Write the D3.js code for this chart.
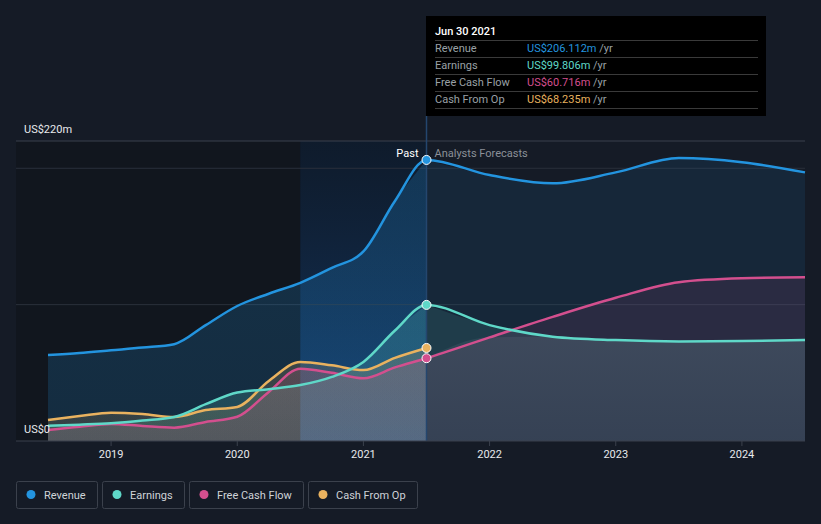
<!DOCTYPE html>
<html>
<head>
<meta charset="utf-8">
<script src="https://cdn.jsdelivr.net/npm/d3@7"></script>
<style>
  body { margin: 0; background: #151b26; font-family: Roboto, "Noto Sans", sans-serif; }
  svg { display: block; }
</style>
</head>
<body>
<div id="chart"></div>
<script>
// data, values in US$m, dates as decimal years
const pastDates = [2018.5, 2018.75, 2019, 2019.25, 2019.5, 2019.75, 2020, 2020.25, 2020.5, 2020.75, 2021, 2021.25, 2021.5];
const revenuePast = [63, 64.5, 66.5, 68.5, 71, 85, 99, 108, 116, 127, 139, 176, 206.112];
const earningsPast = [11.2, 12, 13, 15, 17.6, 27, 35.5, 38, 41, 47, 58, 81, 99.806];
const fcfPast = [8, 10.5, 12.5, 11, 9.8, 14, 17.8, 36, 53, 50, 46, 54, 60.716];
const cfoPast = [15.4, 18.3, 20.8, 19.8, 17.6, 22.7, 25, 44, 58, 55.5, 52, 61, 68.235];

const forecastDates = [2021.5, 2022, 2022.5, 2023, 2023.5, 2024, 2024.5];
const revenueForecast = [206.112, 195, 189, 197, 207.5, 204.5, 197];
const earningsForecast = [99.806, 85, 76.5, 74, 73, 73.3, 74];
const fcfForecast = [60.716, 76, 91, 105, 116.5, 119.3, 120];

const yearTicks = [2019, 2020, 2021, 2022, 2023, 2024];
const seriesNames = ["Revenue", "Earnings", "Free Cash Flow", "Cash From Op"];
const seriesColors = ["#2394df", "#5fd8c8", "#d34f8e", "#e9b25f"];
const tooltipDate = "Jun 30 2021";
const tooltipValues = ["US$206.112m", "US$99.806m", "US$60.716m", "US$68.235m"];

const width = 821, height = 524;
const plot = { left: 16, right: 805, top: 141, bottom: 441 };

const svg = d3.select('#chart').append('svg')
    .attr('width', width)
    .attr('height', height);

const defs = svg.append('defs');

const x = d3.scaleLinear()
    .domain([2018.5, 2024.5])
    .range([48, 805]);

const y = d3.scaleLinear()
    .domain([0, 220])
    .range([plot.bottom, plot.top]);

const toPoints = (dates, vals) => dates.map((d, i) => ({ t: d, v: vals[i] }));

const series = [
    { past: toPoints(pastDates, revenuePast), fc: toPoints(forecastDates, revenueForecast) },
    { past: toPoints(pastDates, earningsPast), fc: toPoints(forecastDates, earningsForecast) },
    { past: toPoints(pastDates, fcfPast), fc: toPoints(forecastDates, fcfForecast) },
    { past: toPoints(pastDates, cfoPast), fc: null }
];

// background of the past part
const splitX = x(2021.5);
const highlightX = x(2020.5);

svg.append('rect')
    .attr('x', plot.left).attr('y', plot.top)
    .attr('width', highlightX - plot.left).attr('height', plot.bottom - plot.top)
    .attr('fill', '#0d1117').attr('opacity', 0.45);

let hl = defs.append('linearGradient').attr('id', 'hl')
    .attr('x1', 0).attr('x2', 0).attr('y1', 0).attr('y2', 1);
hl.append('stop').attr('offset', '0%').attr('stop-color', '#0b2b52').attr('stop-opacity', 0.25);
hl.append('stop').attr('offset', '100%').attr('stop-color', '#1a56a0').attr('stop-opacity', 0.55);

svg.append('rect')
    .attr('x', highlightX).attr('y', plot.top)
    .attr('width', splitX - highlightX).attr('height', plot.bottom - plot.top)
    .attr('fill', '#0a0f17').attr('opacity', 0.4);
svg.append('rect')
    .attr('x', highlightX).attr('y', plot.top)
    .attr('width', splitX - highlightX).attr('height', plot.bottom - plot.top)
    .attr('fill', 'url(#hl)');

// gridlines
[100, 200].forEach(v => {
    svg.append('line')
        .attr('x1', plot.left).attr('x2', plot.right)
        .attr('y1', y(v)).attr('y2', y(v))
        .attr('stroke', '#2a303b').attr('stroke-width', 1);
});
svg.append('line')
    .attr('x1', plot.left).attr('x2', plot.right)
    .attr('y1', plot.top).attr('y2', plot.top)
    .attr('stroke', '#3b414c').attr('stroke-width', 1);

// areas
const area = d3.area()
    .x(d => x(d.t))
    .y0(y(0))
    .y1(d => y(d.v))
    .curve(d3.curveMonotoneX);

const line = d3.line()
    .x(d => x(d.t))
    .y(d => y(d.v))
    .curve(d3.curveMonotoneX);

const pastOpacity = [0.22, 0.2, 0.18, 0.18];
const fcOpacity = [0.1, 0.12, 0.11, 0];

seriesColors.forEach((c, i) => {
    let g = defs.append('linearGradient').attr('id', 'g' + i)
        .attr('x1', 0).attr('x2', 0).attr('y1', 0).attr('y2', 1);
    g.append('stop').attr('offset', '0%').attr('stop-color', c).attr('stop-opacity', pastOpacity[i]);
    g.append('stop').attr('offset', '100%').attr('stop-color', c).attr('stop-opacity', pastOpacity[i] * 0.8);
});

// gray base under the forecast
let fg = defs.append('linearGradient').attr('id', 'fgray')
    .attr('x1', 0).attr('x2', 0).attr('y1', 0).attr('y2', 1);
fg.append('stop').attr('offset', '0%').attr('stop-color', '#8a93a3').attr('stop-opacity', 0.13);
fg.append('stop').attr('offset', '100%').attr('stop-color', '#8a93a3').attr('stop-opacity', 0.04);

const areaGroup = svg.append('g');

series.forEach((s, i) => {
    areaGroup.append('path')
        .attr('d', area(s.past))
        .attr('fill', `url(#g${i})`);
    if (s.fc) {
        areaGroup.append('path')
            .attr('d', area(s.fc))
            .attr('fill', seriesColors[i])
            .attr('fill-opacity', fcOpacity[i]);
    }
});
// lowest band grey tint
areaGroup.append('path')
    .attr('d', area(series[1].fc.map((d, k) => ({ t: d.t, v: Math.min(d.v, series[2].fc[k].v) }))))
    .attr('fill', 'url(#fgray)');

// vertical split line
svg.append('line')
    .attr('x1', splitX).attr('x2', splitX)
    .attr('y1', 116).attr('y2', plot.bottom)
    .attr('stroke', '#24466e').attr('stroke-width', 1.5);

// lines
const lineGroup = svg.append('g');
[3, 2, 1, 0].forEach(i => {
    let s = series[i];
    let pts = s.fc ? s.past.concat(s.fc.slice(1)) : s.past;
    lineGroup.append('path')
        .attr('d', line(pts))
        .attr('fill', 'none')
        .attr('stroke', seriesColors[i])
        .attr('stroke-width', 2.5);
});

// markers
[3, 2, 1, 0].forEach(i => {
    let p = series[i].past[series[i].past.length - 1];
    svg.append('circle')
        .attr('cx', x(p.t)).attr('cy', y(p.v)).attr('r', 4.5)
        .attr('fill', seriesColors[i])
        .attr('stroke', '#ffffff').attr('stroke-width', 1);
});

// x axis
const xAxis = svg.append('g')
    .attr('transform', `translate(0, ${plot.bottom})`);
xAxis.append('line')
    .attr('x1', plot.left).attr('x2', plot.right)
    .attr('stroke', '#3b414c');
yearTicks.forEach(t => {
    xAxis.append('line')
        .attr('x1', x(t)).attr('x2', x(t))
        .attr('y1', 0).attr('y2', 5)
        .attr('stroke', '#3b414c');
    xAxis.append('text')
        .attr('x', x(t)).attr('y', 17)
        .attr('text-anchor', 'middle')
        .attr('fill', '#e8eaed')
        .attr('font-size', 11)
        .text(t);
});

// y labels
svg.append('text').attr('x', 24).attr('y', 133)
    .attr('fill', '#e8eaed').attr('font-size', 11).text('US$220m');
svg.append('text').attr('x', 24).attr('y', 433)
    .attr('fill', '#e8eaed').attr('font-size', 11).text('US$0');

// past / forecast labels
svg.append('text').attr('x', splitX - 8).attr('y', 157)
    .attr('text-anchor', 'end')
    .attr('fill', '#ffffff').attr('font-size', 11).text('Past');
svg.append('text').attr('x', splitX + 8).attr('y', 157)
    .attr('fill', '#8b9098').attr('font-size', 11).text('Analysts Forecasts');

// tooltip
const tip = svg.append('g').attr('transform', 'translate(426, 16)');
tip.append('rect')
    .attr('width', 340).attr('height', 100)
    .attr('fill', '#000000');
tip.append('text').attr('x', 9).attr('y', 19)
    .attr('fill', '#ffffff').attr('font-size', 11).attr('font-weight', 500)
    .text(tooltipDate);
seriesNames.forEach((n, i) => {
    let rowY = 24 + i * 17;
    tip.append('line')
        .attr('x1', 9).attr('x2', 332)
        .attr('y1', rowY + 0.5).attr('y2', rowY + 0.5)
        .attr('stroke', '#3a3a3a');
    tip.append('text').attr('x', 9).attr('y', rowY + 12)
        .attr('fill', '#9aa0a6').attr('font-size', 11).text(n);
    let t = tip.append('text').attr('x', 101).attr('y', rowY + 12)
        .attr('font-size', 11);
    t.append('tspan').attr('fill', seriesColors[i]).text(tooltipValues[i]);
    t.append('tspan').attr('fill', '#9aa0a6').text(' /yr');
});
tip.append('line')
    .attr('x1', 9).attr('x2', 332)
    .attr('y1', 92.5).attr('y2', 92.5)
    .attr('stroke', '#3a3a3a');

// legend
const legend = svg.append('g').attr('transform', 'translate(16, 481)');
let lx = 0;
seriesNames.forEach((n, i) => {
    let item = legend.append('g').attr('transform', `translate(${lx}, 0)`);
    let txt = item.append('text')
        .attr('x', 28).attr('y', 17.5)
        .attr('fill', '#cfd3d8').attr('font-size', 11)
        .attr('textLength', null)
        .text(n);
    let w = Math.round(txt.node().getComputedTextLength()) + 39;
    item.insert('rect', 'text')
        .attr('x', 0.5).attr('y', 0.5)
        .attr('width', w).attr('height', 27)
        .attr('rx', 2)
        .attr('fill', 'none')
        .attr('stroke', '#3b414c');
    item.append('circle')
        .attr('cx', 15).attr('cy', 13.5).attr('r', 4.5)
        .attr('fill', seriesColors[i]);
    lx += w + 5;
});
</script>
</body>
</html>
